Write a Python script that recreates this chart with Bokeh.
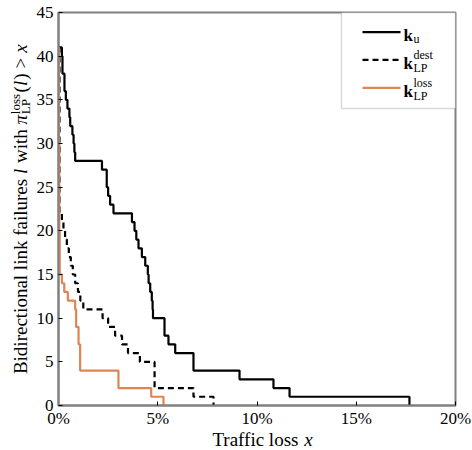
import math
from bokeh.plotting import figure
from bokeh.layouts import row, column
from bokeh.models import Range1d, FixedTicker, NumeralTickFormatter, BoxAnnotation, Arrow, Label
from bokeh.core.properties import value
from bokeh.embed import file_html
from bokeh.resources import INLINE

# ---------------- data (traffic loss fraction -> number of link failures above it) -------------
ku_x = [0.0, 0.0017, 0.0020, 0.0030, 0.0037, 0.0045, 0.0055, 0.0059, 0.0070, 0.0076, 0.0080, 0.0084,
        0.0219, 0.0243, 0.0250, 0.0260, 0.0277, 0.0370, 0.0383, 0.0392, 0.0403, 0.0420, 0.0437, 0.0450,
        0.0454, 0.0462, 0.0470, 0.0474, 0.0476, 0.0534, 0.0554, 0.0588, 0.0680, 0.0912, 0.1083, 0.1164,
        0.1768]
ku_y = [41, 40, 38, 36, 35, 34, 33, 32, 31, 30, 29, 28,
        27, 25, 24, 23, 22, 21, 20, 19, 18, 17, 16, 15,
        14, 13, 12, 11, 10, 8, 7, 6, 4, 3, 2, 1,
        0]

dest_x = [0.0, 0.0005, 0.0017, 0.0025, 0.0033, 0.0042, 0.0052, 0.0062, 0.0072, 0.0084, 0.0098, 0.0110,
          0.0125, 0.0222, 0.0250, 0.0285, 0.0320, 0.0350, 0.0410, 0.0484, 0.0680, 0.0781]
dest_y = [41, 22, 21, 20, 19, 18, 17, 16, 15, 14, 13, 12,
          11, 10, 9, 8, 7, 6, 5, 2, 1, 0]

loss_x = [0.0, 0.0002, 0.0004, 0.0006, 0.0017, 0.0029, 0.0047, 0.0084, 0.0089, 0.0101, 0.0109, 0.0302,
          0.0467, 0.0529]
loss_y = [41, 30, 20, 15, 14, 13, 12, 11, 9, 7, 4, 2,
          1, 0]

x_ticks = [0.0, 0.05, 0.10, 0.15, 0.20]
y_ticks = [0, 5, 10, 15, 20, 25, 30, 35, 40, 45]

ORANGE = "#DE8552"
GRAY = "#808080"
FONT = "Liberation Serif"

W, H = 472, 450
WL = 33          # width of the strip holding the y-axis title
HB = 20          # height of the strip holding the x-axis title
FL, FR = 58, 455  # horizontal extent of the plot frame (the x-title strip shares it)

# ---------------- main figure -------------
p = figure(width=W - WL, height=H - HB, output_backend="svg", toolbar_location=None, title=None,
           x_range=Range1d(0, 0.2), y_range=Range1d(0, 45),
           min_border_left=FL - WL, min_border_right=W - FR, min_border_top=12, min_border_bottom=25)
p.grid.visible = False
p.outline_line_color = GRAY
p.outline_line_width = 2
p.background_fill_color = "white"
p.border_fill_color = "white"

for ax in (p.xaxis[0], p.yaxis[0]):
    ax.axis_line_color = GRAY
    ax.axis_line_width = 2
    ax.major_tick_in = 4
    ax.major_tick_out = 0
    ax.major_tick_line_color = "black"
    ax.major_tick_line_width = 1
    ax.minor_tick_line_color = None
    ax.major_label_text_font = FONT
    ax.major_label_text_font_size = "17px"
    ax.major_label_text_color = "black"
p.xaxis.major_label_standoff = 3
p.yaxis.major_label_standoff = 5

p.xaxis.ticker = FixedTicker(ticks=x_ticks)
p.xaxis.formatter = NumeralTickFormatter(format="0%")
p.yaxis.ticker = FixedTicker(ticks=y_ticks)

# ---------------- series -------------
p.step(ku_x, ku_y, mode="after", line_color="black", line_width=2.2)
p.step(dest_x, dest_y, mode="after", line_color="black", line_width=2.2, line_dash="6 4")
p.step(loss_x, loss_y, mode="after", line_color=ORANGE, line_width=2.2)

# ---------------- text helpers (Times metrics, per 1000 em) -------------
W_REG = {' ': 250, 'B': 667, 'i': 278, 'd': 500, 'r': 333, 'e': 444, 'c': 444, 't': 278, 'o': 500,
         'n': 500, 'a': 444, 'l': 278, 'k': 500, 'f': 333, 'u': 500, 's': 389, 'w': 722, 'h': 500,
         'T': 611, '(': 333, ')': 333, '>': 564, 'L': 611, 'P': 556, 'x': 500}
W_IT = {'l': 278, 'x': 444, 'π': 520}
MID = 0.3375  # distance (in em) from the alphabetic baseline to the em-box middle


def tw(s, size, table=W_REG):
    return sum(table.get(ch, 500) for ch in s) * size / 1000.0


def txt(fig, text, x, y, size, style="normal", angle=0.0):
    fig.text(x=[x], y=[y], text=[text], text_font=value(FONT), text_font_size=value(f"{size}px"),
             text_font_style=style, text_color="black", angle=angle,
             text_align="left", text_baseline="middle")


def strip(width, height, xr, yr):
    f = figure(width=width, height=height, output_backend="svg", toolbar_location=None, title=None,
               x_range=Range1d(*xr), y_range=Range1d(*yr),
               min_border=0, x_axis_location=None, y_axis_location=None)
    f.grid.visible = False
    f.outline_line_color = None
    f.background_fill_color = "white"
    f.border_fill_color = "white"
    return f


FS = 19
SS = 13
SP = tw(" ", FS)

# ---- x axis title strip: "Traffic loss x"  (strip frame is aligned with the plot frame) ----
xs = strip(W - WL, HB, (FL, FR), (H, H - HB))       # data coordinates == page pixels
xl_w = tw("Traffic loss", FS) + SP + tw("x", FS, W_IT)
x0 = 262 - xl_w / 2
ymid = 445 - MID * FS
txt(xs, "Traffic loss", x0, ymid, FS)
txt(xs, "x", x0 + tw("Traffic loss", FS) + SP, ymid, FS, style="italic")

# ---- y axis title strip: "Bidirectional link failures l with π^loss_LP(l) > x" (rotated) ----
ys = strip(WL, H, (0, WL), (0, H))
A = math.pi / 2
base_x = 26                        # page x of the rotated text's baseline
mid_main = base_x - MID * FS
mid_sup = (base_x - 7) - MID * SS
mid_sub = (base_x + 3.5) - MID * SS
seq = [("Bidirectional link failures", "normal", W_REG, SP),
       ("l", "italic", W_IT, SP + 1),
       ("with", "normal", W_REG, SP),
       ("π", "italic", W_IT, 0.5),
       ("SUPSUB", None, None, 1.5),
       ("(", "normal", W_REG, 0),
       ("l", "italic", W_IT, 1),
       (")", "normal", W_REG, 5),
       (">", "normal", W_REG, 5),
       ("x", "italic", W_IT, 0)]


def piece_w(t, tb):
    return tw("loss", SS) if t == "SUPSUB" else tw(t, FS, tb)


total = sum(piece_w(t, tb) + g for t, _, tb, g in seq)
yc = H - 208.7
yy = yc - total / 2
for t, st, tb, g in seq:
    if t == "SUPSUB":
        txt(ys, "loss", mid_sup, yy, SS, angle=A)
        txt(ys, "LP", mid_sub, yy, SS, angle=A)
    else:
        txt(ys, t, mid_main, yy, FS, style=st, angle=A)
    yy += piece_w(t, tb) + g

# ---------------- legend (drawn by hand, inside the frame) -------------
p.add_layout(BoxAnnotation(left=283, right=397, top=393, bottom=297,
                           left_units="screen", right_units="screen", top_units="screen", bottom_units="screen",
                           fill_color="white", fill_alpha=1.0, line_color=GRAY, line_width=1.5))
rows = [373.3, 345.7, 317.7]
styles = [("black", None), ("black", "6 4"), (ORANGE, None)]
for ry, (col, dash) in zip(rows, styles):
    kw = dict(x_start=304, y_start=ry, x_end=342, y_end=ry, start_units="screen", end_units="screen",
              end=None, line_color=col, line_width=2.2)
    if dash:
        kw["line_dash"] = dash
    p.add_layout(Arrow(**kw))


def lab(text, x, y, size, style="normal"):
    p.add_layout(Label(x=x, y=y, x_units="screen", y_units="screen", text=text,
                       text_font=FONT, text_font_size=f"{size}px", text_font_style=style,
                       text_color="black", text_align="left", text_baseline="alphabetic"))


KX = 345
LS = 17
SUB = 12
kw_ = LS * 0.556
lab("k", KX, rows[0] - 3.5, LS, style="bold")
lab("u", KX + kw_ + 0.5, rows[0] - 7, SUB)
lab("k", KX, rows[1] - 3.5, LS, style="bold")
lab("dest", KX + kw_ + 0.5, rows[1] + 4.5, SUB)
lab("LP", KX + kw_ + 0.5, rows[1] - 8, SUB)
lab("k", KX, rows[2] - 3.5, LS, style="bold")
lab("loss", KX + kw_ + 0.5, rows[2] + 4.5, SUB)
lab("LP", KX + kw_ + 0.5, rows[2] - 8, SUB)

layout = row(ys, column(p, xs))
open("out.html", "w").write(file_html(layout, INLINE))
